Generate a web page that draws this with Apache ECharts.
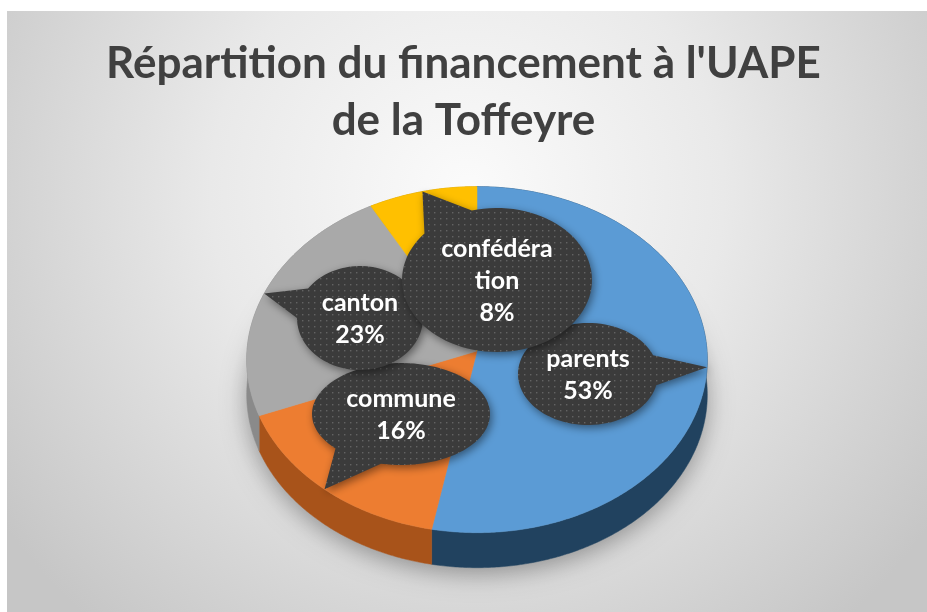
<!DOCTYPE html>
<html><head><meta charset="utf-8">
<script src="https://cdn.jsdelivr.net/npm/echarts@6/dist/echarts.min.js"></script>
<style>html,body{margin:0;padding:0;background:#fff;}#c{width:927px;height:612px;}</style>
</head><body><div id="c"></div>
<script>
// ---- data ----
const categories = ['parents', 'commune', 'canton', 'confédération'];
const values = [53, 16, 23, 8];
const titleText = "Répartition du financement à l'UAPE\nde la Toffeyre";

// ---- styles / layout ----
const sliceColors = ['#5b9bd5', '#ed7d31', '#a9a9a9', '#ffc000'];
const sideColors = ['#21425f', '#a8531a', '#8a8a8a', '#bf9000'];
const PIE = { cx: 477, cy: 351, rx: 230, ry: 172.6, k: 0.05, depth: 35 };
const BUBBLES = [
  { cx: 588, cy: 374, rx: 70, ry: 51 },
  { cx: 401, cy: 414, rx: 89, ry: 51 },
  { cx: 360, cy: 318, rx: 63, ry: 52 },
  { cx: 497, cy: 280, rx: 95, ry: 72 }
];

const total = values.reduce((a, b) => a + b, 0);
const starts = []; let acc = 0;
values.forEach(v => { starts.push(acc); acc += v; });

function proj(theta, dy) {
  const u = Math.sin(theta), v = -Math.cos(theta);
  const s = 1 / (1 - PIE.k * v);
  return [PIE.cx + PIE.rx * u * s, PIE.cy + PIE.ry * v * s + (dy || 0)];
}

// dotted pattern for callouts
const pc = document.createElement('canvas');
pc.width = 6; pc.height = 6;
const g = pc.getContext('2d');
g.fillStyle = '#3b3b3b'; g.fillRect(0, 0, 6, 6);
g.fillStyle = 'rgba(140,140,140,0.5)'; g.fillRect(2, 2, 1.4, 1.4);
const pattern = { image: pc, repeat: 'repeat' };

function wrapLabel(name) {
  return name.length > 10 ? name.slice(0, 9) + '\n' + name.slice(9) : name;
}

function renderItem(params, api) {
  const i = params.dataIndex;
  const val = api.value(0);
  const a0 = starts[i] / total * 2 * Math.PI;
  const a1 = a0 + val / total * 2 * Math.PI;
  const n = Math.max(6, Math.ceil((a1 - a0) / 0.01));
  const top = [], bot = [];
  for (let j = 0; j <= n; j++) {
    const t = a0 + (a1 - a0) * j / n;
    top.push(proj(t));
    bot.push(proj(t, PIE.depth));
  }
  const children = [];
  if (i === 0) {
    const sh = [];
    for (let j = 0; j <= 120; j++) sh.push(proj(j / 120 * 2 * Math.PI, PIE.depth));
    children.push({ type: 'polygon', z2: 0, shape: { points: sh },
      style: { fill: '#bdbdbd', shadowBlur: 25, shadowColor: 'rgba(0,0,0,0.35)', shadowOffsetY: 6 } });
  }
  children.push({ type: 'polygon', z2: 2, shape: { points: top.concat(bot.slice().reverse()) },
    style: { fill: sideColors[i], stroke: sideColors[i], lineWidth: 0.5 } });
  children.push({ type: 'polygon', z2: 10, shape: { points: [[PIE.cx, PIE.cy]].concat(top) },
    style: { fill: sliceColors[i], stroke: sliceColors[i], lineWidth: 0.5 } });

  const b = BUBBLES[i];
  const tip = proj((a0 + a1) / 2);
  const dir = Math.atan2((tip[1] - b.cy) / b.ry, (tip[0] - b.cx) / b.rx);
  const spread = 0.3;
  const pts = [];
  const m = 90;
  for (let j = 0; j <= m; j++) {
    const t = dir + spread + (2 * Math.PI - 2 * spread) * j / m;
    pts.push([b.cx + b.rx * Math.cos(t), b.cy + b.ry * Math.sin(t)]);
  }
  pts.push(tip);
  children.push({ type: 'polygon', z2: 20 + i * 2, shape: { points: pts },
    style: { fill: pattern, shadowBlur: 8, shadowColor: 'rgba(0,0,0,0.45)', shadowOffsetX: 2, shadowOffsetY: 3 } });
  const pct = Math.round(val / total * 100) + '%';
  children.push({ type: 'text', z2: 21 + i * 2, x: b.cx, y: b.cy + 1,
    style: { text: wrapLabel(categories[i]) + '\n' + pct, fill: '#ffffff', fontFamily: 'Lato', fontWeight: 'bold',
      fontSize: 25, lineHeight: 32, align: 'center', verticalAlign: 'middle' } });
  return { type: 'group', children: children };
}

const chart = echarts.init(document.getElementById('c'), null, { renderer: 'canvas' });
chart.setOption({
  animation: false,
  graphic: [{
    type: 'rect', z: -10, shape: { x: 7, y: 11, width: 920, height: 601 },
    style: { fill: { type: 'radial', x: 0.5, y: 0.3, r: 0.95,
      colorStops: [{ offset: 0, color: '#fbfbfb' }, { offset: 0.45, color: '#e9e9e9' }, { offset: 1, color: '#c6c6c6' }] } }
  }],
  title: {
    text: titleText, left: 'center', top: 30,
    textStyle: { fontFamily: 'Lato', fontWeight: 'bold', fontSize: 44, lineHeight: 57, color: '#404040' }
  },
  series: [{
    type: 'custom', coordinateSystem: 'none', renderItem: renderItem,
    data: values.map((v, i) => ({ name: categories[i], value: [v] }))
  }]
});
</script></body></html>
